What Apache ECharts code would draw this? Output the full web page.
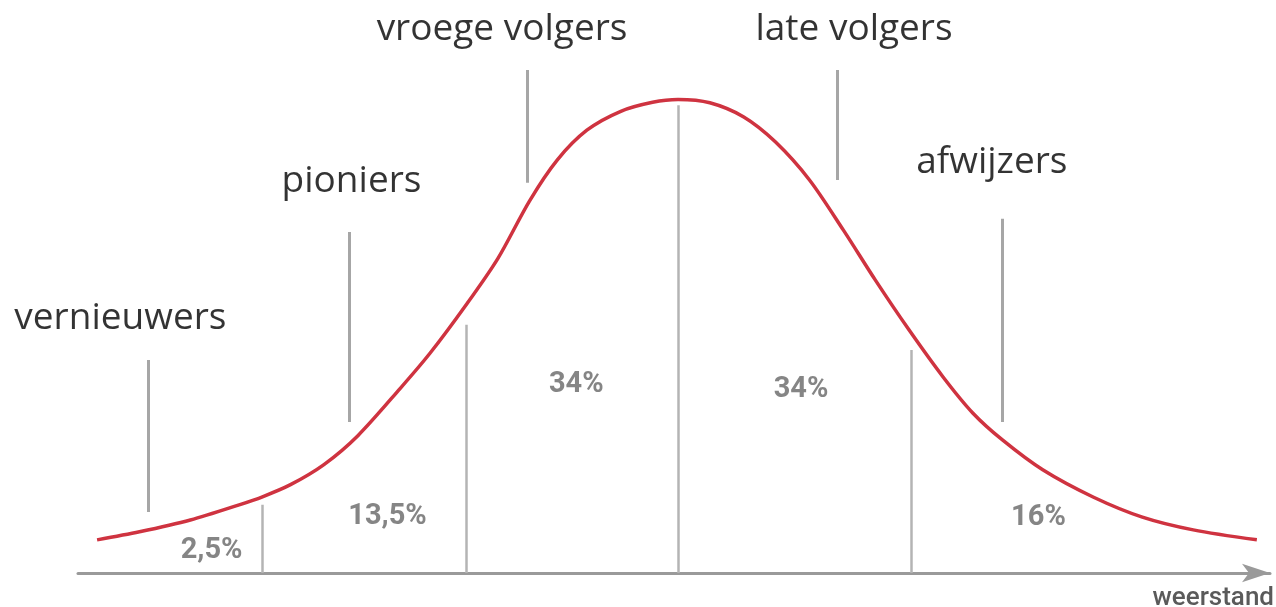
<!DOCTYPE html>
<html>
<head>
<meta charset="utf-8">
<script src="https://cdn.jsdelivr.net/npm/echarts@6/dist/echarts.min.js"></script>
<style>
  html, body { margin: 0; padding: 0; background: #fff; }
  #chart { width: 1276px; height: 607px; }
</style>
</head>
<body>
<div id="chart"></div>
<script>
// curve (x in sigma-like units, y relative to the peak)
const curveX = [-2.74, -2.54, -2.30, -2.07, -1.96, -1.83, -1.67, -1.51, -1.31, -1.17, -1.00, -0.85, -0.70, -0.57, -0.43, -0.27, -0.12, 0,
  0.15, 0.31, 0.46, 0.62, 0.78, 0.93, 1.09, 1.25, 1.39, 1.53, 1.72, 1.96, 2.19, 2.43, 2.73];
const curveY = [0.070, 0.087, 0.112, 0.144, 0.161, 0.186, 0.229, 0.290, 0.390, 0.464, 0.566, 0.664, 0.786, 0.872, 0.935, 0.975, 0.994, 1.000,
  0.993, 0.963, 0.910, 0.830, 0.724, 0.619, 0.513, 0.414, 0.338, 0.281, 0.218, 0.160, 0.118, 0.091, 0.070];

// segment boundaries
const boundX = [-1.96, -1.00, 0, 1.10];
const boundTop = [0.144, 0.524, 0.988, 0.471];

// group names and their pointer lines
const groups = ['vernieuwers', 'pioniers', 'vroege volgers', 'late volgers', 'afwijzers'];
const groupX = [-2.63, -1.54, -0.83, 0.83, 1.48];
const groupY = [0.538, 0.826, 1.147, 1.147, 0.866];
const pointerX = [-2.50, -1.55, -0.71, 0.75, 1.53];
const pointerTop = [0.450, 0.720, 1.062, 1.062, 0.748];
const pointerBottom = [0.129, 0.319, 0.824, 0.830, 0.319];

// shares per segment
const shares = ['2,5%', '13,5%', '34%', '34%', '16%'];
const shareX = [-2.20, -1.37, -0.48, 0.58, 1.70];
const shareY = [0.046, 0.118, 0.397, 0.386, 0.116];

const chart = echarts.init(document.getElementById('chart'));

chart.setOption({
  animation: false,
  grid: { left: 78, right: 6, top: 0, bottom: 34, outerBoundsMode: 'none', containLabel: false },
  xAxis: {
    type: 'value',
    min: -2.83,
    max: 2.792,
    name: 'weerstand',
    nameLocation: 'end',
    nameGap: 4,
    nameTextStyle: {
      color: '#5a5a5a', fontFamily: 'Roboto', fontWeight: 500, fontSize: 26,
      align: 'right', verticalAlign: 'top', padding: [12, 0, 0, 0]
    },
    axisLine: {
      lineStyle: { color: '#9a9a9a', width: 3 },
      symbol: ['none', 'arrow'],
      symbolSize: [14, 28]
    },
    axisTick: { show: false },
    axisLabel: { show: false },
    splitLine: { show: false }
  },
  yAxis: {
    type: 'value',
    min: 0,
    max: 1.21,
    show: false,
    splitLine: { show: false }
  },
  series: [
    {
      type: 'lines',
      coordinateSystem: 'cartesian2d',
      lineStyle: { color: '#b4b4b4', width: 2.5, opacity: 1 },
      data: boundX.map((x, i) => ({ coords: [[x, 0], [x, boundTop[i]]] })),
      z: 1
    },
    {
      type: 'lines',
      coordinateSystem: 'cartesian2d',
      lineStyle: { color: '#a6a6a6', width: 3, opacity: 1 },
      data: pointerX.map((x, i) => ({ coords: [[x, pointerBottom[i]], [x, pointerTop[i]]] })),
      z: 1
    },
    {
      type: 'line',
      smooth: 0.3,
      showSymbol: false,
      lineStyle: { color: '#cf3340', width: 3.5 },
      data: curveX.map((x, i) => [x, curveY[i]]),
      z: 3
    },
    {
      type: 'scatter',
      symbolSize: 0,
      label: {
        show: true,
        position: 'inside',
        formatter: p => groups[p.dataIndex],
        color: '#000',
        fontFamily: 'Open Sans',
        fontWeight: 500,
        fontSize: 37
      },
      data: groupX.map((x, i) => [x, groupY[i]]),
      z: 4
    },
    {
      type: 'scatter',
      symbolSize: 0,
      label: {
        show: true,
        position: 'inside',
        formatter: p => shares[p.dataIndex],
        color: '#666',
        fontFamily: 'Roboto',
        fontWeight: 'bold',
        fontSize: 29
      },
      data: shareX.map((x, i) => [x, shareY[i]]),
      z: 4
    }
  ]
});
</script>
</body>
</html>
